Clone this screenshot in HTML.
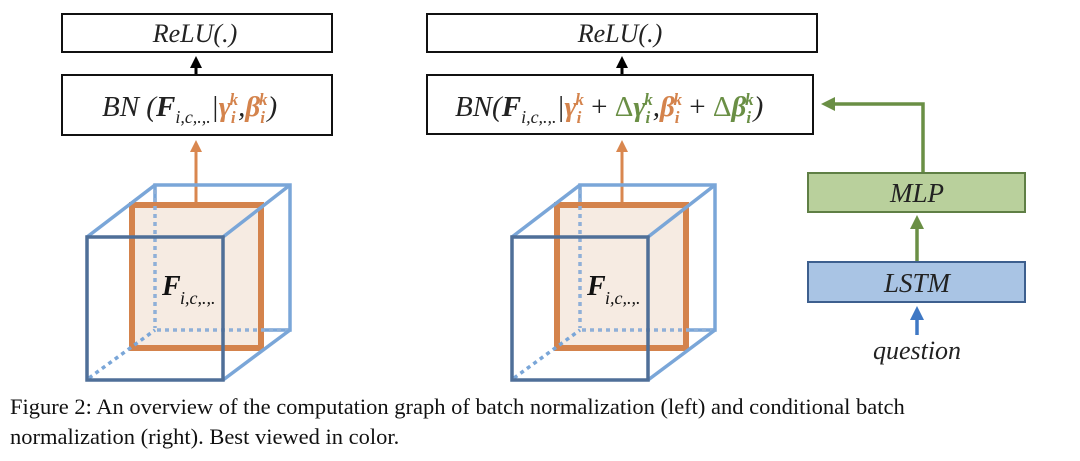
<!DOCTYPE html>
<html><head><meta charset="utf-8"><style>
html,body{margin:0;padding:0;background:#fff;}
body{width:1080px;height:461px;overflow:hidden;position:relative;}
svg text{font-family:"Liberation Serif",serif;}
.cap{position:absolute;left:10px;width:1066px;font-family:"Liberation Serif",serif;font-size:22.5px;color:#111;line-height:30px;white-space:nowrap;}
</style></head><body>
<svg width="1080" height="390" viewBox="0 0 1080 390" style="position:absolute;left:0;top:0">
<defs>
<marker id="ab" markerWidth="4" markerHeight="4" refX="2" refY="2" orient="auto" markerUnits="strokeWidth"><path d="M0,0 L4,2 L0,4Z" fill="#000"/></marker>
<marker id="ao" markerWidth="4" markerHeight="4" refX="2" refY="2" orient="auto" markerUnits="strokeWidth"><path d="M0,0 L4,2 L0,4Z" fill="#d9874f"/></marker>
<marker id="ag" markerWidth="4" markerHeight="4" refX="2" refY="2" orient="auto" markerUnits="strokeWidth"><path d="M0,0 L4,2 L0,4Z" fill="#6a8f45"/></marker>
<marker id="au" markerWidth="4" markerHeight="4" refX="2" refY="2" orient="auto" markerUnits="strokeWidth"><path d="M0,0 L4,2 L0,4Z" fill="#3f78c4"/></marker>
<g id="cube">
<rect x="155" y="185" width="135" height="145" fill="none" stroke="#7aa6d8" stroke-width="3.5"/>
<rect x="132" y="205" width="129" height="143" fill="#f6ebe2" stroke="#d4834c" stroke-width="6"/>
<line x1="155" y1="190" x2="155" y2="328" stroke="#8fb0d8" stroke-width="3.5" stroke-dasharray="4,4"/>
<line x1="157" y1="330" x2="288" y2="330" stroke="#8fb0d8" stroke-width="3.5" stroke-dasharray="4,4"/>
<line x1="89" y1="378" x2="155" y2="330" stroke="#7aa6d8" stroke-width="3.5" stroke-dasharray="4,4"/>
<line x1="87" y1="237" x2="155" y2="185" stroke="#7aa6d8" stroke-width="3.5"/>
<line x1="223" y1="237" x2="290" y2="185" stroke="#7aa6d8" stroke-width="3.5"/>
<line x1="223" y1="380" x2="290" y2="330" stroke="#7aa6d8" stroke-width="3.5"/>
<rect x="87" y="237" width="136" height="143" fill="none" stroke="#4f6f98" stroke-width="3.5"/>
<text x="162" y="295" font-size="28" font-weight="bold" font-style="italic" fill="#111">F</text>
<text x="180" y="304" font-size="18" font-style="italic" fill="#111">i,c,.,.</text>
</g>
</defs>
<!-- left -->
<rect x="62" y="14" width="270" height="38" fill="#fff" stroke="#111" stroke-width="2"/>
<text x="195" y="42" font-size="26" font-style="italic" text-anchor="middle" fill="#222">ReLU(.)</text>
<line x1="196" y1="75" x2="196" y2="62" stroke="#000" stroke-width="3" marker-end="url(#ab)"/>
<rect x="62" y="75" width="270" height="60" fill="#fff" stroke="#111" stroke-width="2"/>
<text x="102" y="116" font-size="29" font-style="italic" fill="#222">BN (<tspan font-weight="bold">F</tspan><tspan font-size="18" dy="7">i,c,.,.</tspan><tspan dy="-7">|</tspan><tspan fill="#d4834c" font-weight="bold">γ</tspan><tspan fill="#d4834c" font-weight="bold" font-size="17" dy="7">i</tspan><tspan fill="#d4834c" font-weight="bold" font-size="17" dx="-6" dy="-18">k</tspan><tspan dy="11">,</tspan><tspan fill="#d4834c" font-weight="bold">β</tspan><tspan fill="#d4834c" font-weight="bold" font-size="17" dy="7">i</tspan><tspan fill="#d4834c" font-weight="bold" font-size="17" dx="-6" dy="-18">k</tspan><tspan dy="11">)</tspan></text>
<line x1="196" y1="204" x2="196" y2="146" stroke="#d9874f" stroke-width="3" marker-end="url(#ao)"/>
<use href="#cube"/>
<!-- right -->
<rect x="427" y="14" width="390" height="38" fill="#fff" stroke="#111" stroke-width="2"/>
<text x="620" y="42" font-size="26" font-style="italic" text-anchor="middle" fill="#222">ReLU(.)</text>
<line x1="622" y1="75" x2="622" y2="62" stroke="#000" stroke-width="3" marker-end="url(#ab)"/>
<rect x="427" y="75" width="386" height="59" fill="#fff" stroke="#111" stroke-width="2"/>
<text x="455" y="116" font-size="29" font-style="italic" fill="#222">BN(<tspan font-weight="bold">F</tspan><tspan font-size="18" dy="7">i,c,.,.</tspan><tspan dy="-7">|</tspan><tspan fill="#d4834c" font-weight="bold">γ</tspan><tspan fill="#d4834c" font-weight="bold" font-size="17" dy="7">i</tspan><tspan fill="#d4834c" font-weight="bold" font-size="17" dx="-6" dy="-18">k</tspan><tspan dy="11" font-style="normal"> + </tspan><tspan fill="#6a8f45" font-style="normal">Δ</tspan><tspan fill="#6a8f45" font-weight="bold">γ</tspan><tspan fill="#6a8f45" font-weight="bold" font-size="17" dy="7">i</tspan><tspan fill="#6a8f45" font-weight="bold" font-size="17" dx="-6" dy="-18">k</tspan><tspan dy="11">,</tspan><tspan fill="#d4834c" font-weight="bold">β</tspan><tspan fill="#d4834c" font-weight="bold" font-size="17" dy="7">i</tspan><tspan fill="#d4834c" font-weight="bold" font-size="17" dx="-6" dy="-18">k</tspan><tspan dy="11" font-style="normal"> + </tspan><tspan fill="#6a8f45" font-style="normal">Δ</tspan><tspan fill="#6a8f45" font-weight="bold">β</tspan><tspan fill="#6a8f45" font-weight="bold" font-size="17" dy="7">i</tspan><tspan fill="#6a8f45" font-weight="bold" font-size="17" dx="-6" dy="-18">k</tspan><tspan dy="11">)</tspan></text>
<line x1="622" y1="204" x2="622" y2="146" stroke="#d9874f" stroke-width="3" marker-end="url(#ao)"/>
<use href="#cube" transform="translate(425,0)"/>
<polyline points="923,173 923,104 828,104" fill="none" stroke="#6a8f45" stroke-width="3.5" marker-end="url(#ag)"/>
<rect x="808" y="173" width="217" height="39" fill="#b9d09c" stroke="#5f7f45" stroke-width="2"/>
<text x="917" y="202" font-size="27" font-style="italic" text-anchor="middle" fill="#222">MLP</text>
<line x1="917" y1="262" x2="917" y2="222" stroke="#6a8f45" stroke-width="3.5" marker-end="url(#ag)"/>
<rect x="808" y="262" width="217" height="40" fill="#a9c4e4" stroke="#3d5f8e" stroke-width="2"/>
<text x="917" y="292" font-size="27" font-style="italic" text-anchor="middle" fill="#222">LSTM</text>
<line x1="917" y1="335" x2="917" y2="313" stroke="#3f78c4" stroke-width="3.5" marker-end="url(#au)"/>
<text x="917" y="359" font-size="26" font-style="italic" text-anchor="middle" fill="#222">question</text>
</svg>
<div class="cap" style="top:392px;">Figure 2: An overview of the computation graph of batch normalization (left) and conditional batch</div>
<div class="cap" style="top:422px;">normalization (right). Best viewed in color.</div>
</body></html>
